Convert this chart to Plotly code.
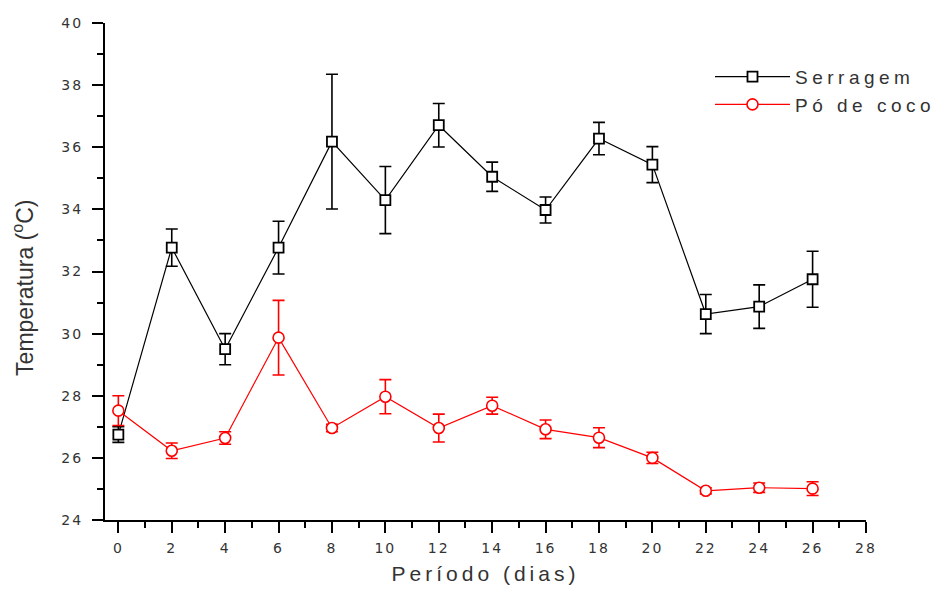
import plotly.graph_objects as go

# ---- data ----
dias = [0, 2, 4, 6, 8, 10, 12, 14, 16, 18, 20, 22, 24, 26]

serragem = [26.75, 32.77, 29.50, 32.77, 36.18, 34.30, 36.71, 35.05, 33.98, 36.28, 35.44, 30.63, 30.87, 31.75]
serragem_err = [0.25, 0.60, 0.50, 0.85, 2.17, 1.08, 0.70, 0.47, 0.42, 0.52, 0.58, 0.63, 0.70, 0.90]

coco = [27.52, 26.23, 26.64, 29.87, 26.96, 27.97, 26.96, 27.68, 26.92, 26.65, 26.00, 24.94, 25.04, 25.01]
coco_err = [0.48, 0.25, 0.20, 1.20, 0.12, 0.55, 0.45, 0.27, 0.30, 0.32, 0.18, 0.10, 0.15, 0.22]

x_ticks = list(range(0, 29, 2))
y_ticks = list(range(24, 41, 2))

TXT = "#333333"
FONT = "Liberation Sans, Arial, sans-serif"
TICKFONT = "DejaVu Sans, sans-serif"

fig = go.Figure()
fig.add_trace(go.Scatter(
    x=dias, y=serragem, name="Serragem", mode="lines+markers",
    line=dict(color="black", width=1.2),
    marker=dict(symbol="square", size=10, color="white",
                line=dict(color="black", width=1.8)),
    error_y=dict(type="data", array=serragem_err, visible=True,
                 color="black", thickness=1.6, width=6),
))
fig.add_trace(go.Scatter(
    x=dias, y=coco, name="Pó de coco", mode="lines+markers",
    line=dict(color="red", width=1.2),
    marker=dict(symbol="circle", size=11, color="white",
                line=dict(color="red", width=1.6)),
    error_y=dict(type="data", array=coco_err, visible=True,
                 color="red", thickness=1.6, width=6),
))

axis_common = dict(
    showline=True, linecolor="black", linewidth=2,
    ticks="outside", ticklen=11, tickwidth=2, tickcolor="black",
    showgrid=False, zeroline=False, mirror=False,
    tickfont=dict(family=TICKFONT, size=14, color=TXT),
)

fig.update_xaxes(
    range=[-0.5, 28], tickvals=x_ticks,
    minor=dict(ticks="outside", ticklen=6, tickwidth=2, tickcolor="black", dtick=1, tick0=0),
    title=dict(text="Período (dias)", font=dict(family=FONT, size=21, color=TXT), standoff=12),
    ticklabelstandoff=3,
    **axis_common,
)
fig.update_yaxes(
    range=[24, 40], tickvals=y_ticks,
    minor=dict(ticks="outside", ticklen=6, tickwidth=2, tickcolor="black", dtick=1, tick0=24),
    ticklabelstandoff=6,
    **axis_common,
)

# y-axis title placed as a rotated annotation (centred like the reference)
fig.add_annotation(
    text="Temperatura (<sup>o</sup>C)", textangle=-90,
    xref="paper", yref="paper", x=0, y=0.467,
    xanchor="center", yanchor="middle", xshift=-82,
    showarrow=False, font=dict(family=FONT, size=23, color=TXT),
)

fig.update_layout(
    width=950, height=594,
    margin=dict(l=105, r=84, t=23, b=74, autoexpand=False),
    paper_bgcolor="white", plot_bgcolor="white",
    showlegend=True,
    legend=dict(
        x=0.795, y=0.93, xanchor="left", yanchor="top",
        bgcolor="rgba(0,0,0,0)", borderwidth=0,
        font=dict(family=FONT, size=19, color=TXT),
        itemwidth=75, tracegroupgap=0,
    ),
)

post = """
document.body.style.margin = '0';
var gd = document.getElementById('{plot_id}');
function applyLS(){
  function ls(sel, v){ gd.querySelectorAll(sel).forEach(function(t){ t.style.letterSpacing = v; }); }
  ls('.xtick text', '2px');
  ls('.ytick text', '2px');
  ls('.g-xtitle text', '4px');
  ls('.legendtext', '4.5px');
  gd.querySelectorAll('.legend [clip-path]').forEach(function(e){ e.removeAttribute('clip-path'); });
}
applyLS();
gd.on('plotly_afterplot', applyLS);
"""

fig.write_html("out.html", post_script=post, config={"displayModeBar": False})
